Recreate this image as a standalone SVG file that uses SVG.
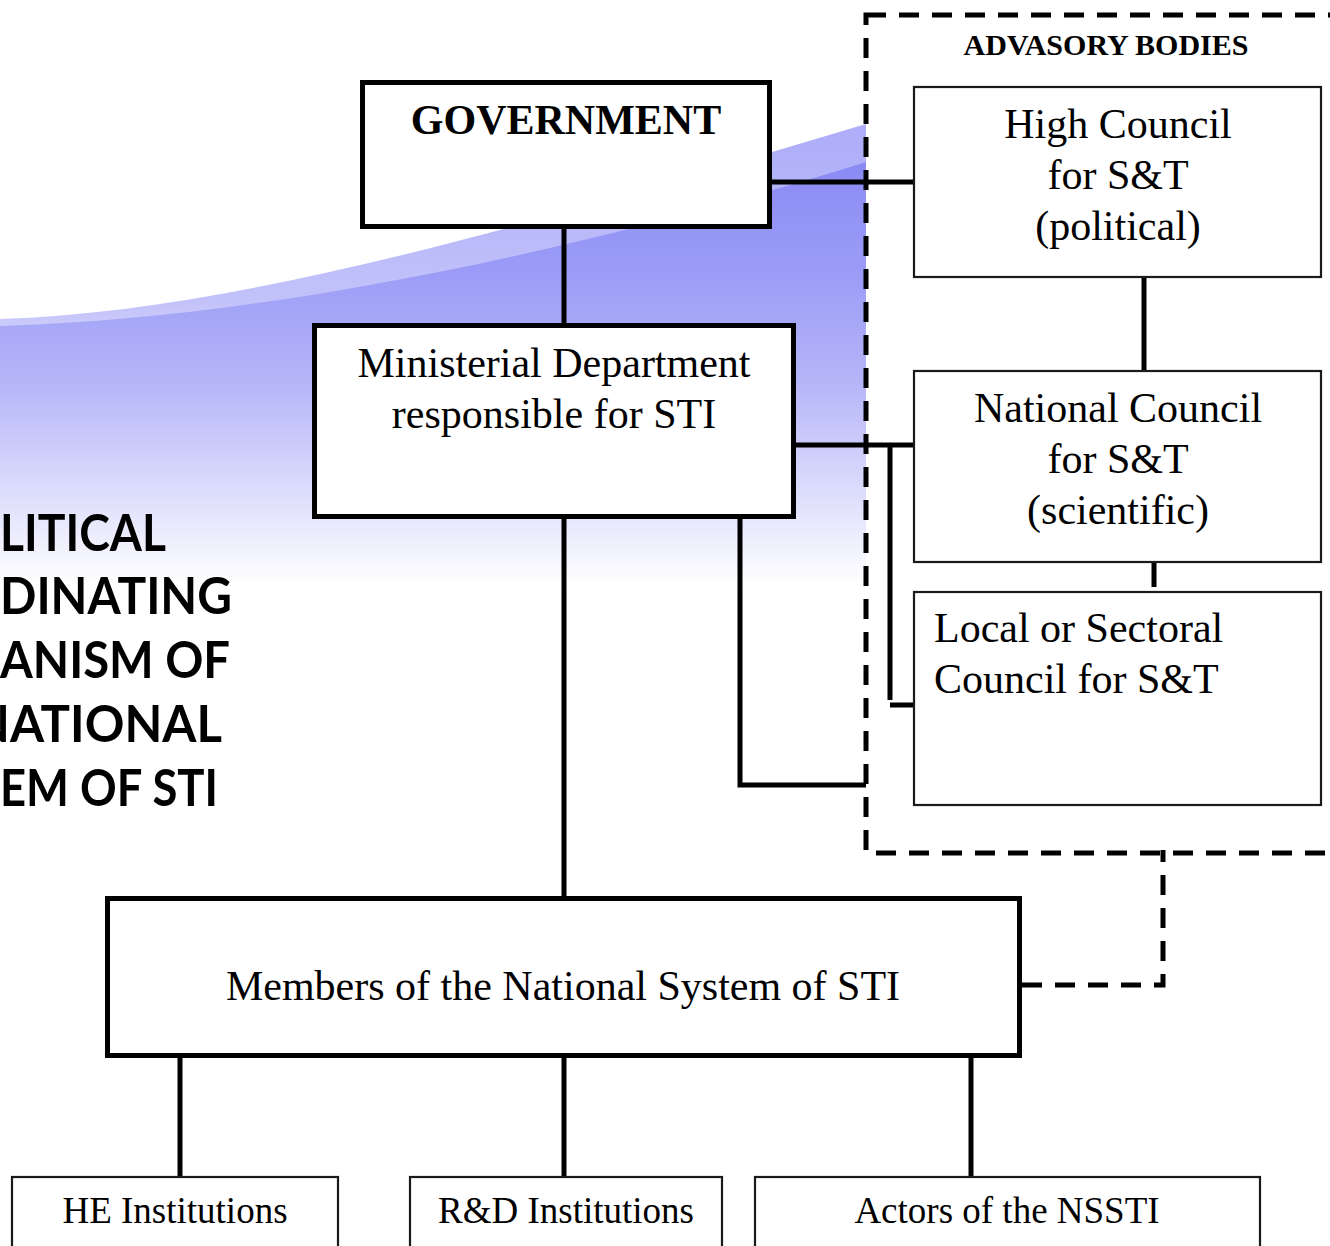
<svg xmlns="http://www.w3.org/2000/svg" width="1330" height="1246" viewBox="0 0 1330 1246">
<defs>
<linearGradient id="gDark" gradientUnits="userSpaceOnUse" x1="0" y1="140" x2="0" y2="585">
<stop offset="0" stop-color="#8787f4"/>
<stop offset="0.3" stop-color="#9c9cf7"/>
<stop offset="0.55" stop-color="#b6b6f9"/>
<stop offset="0.8" stop-color="#dedefc"/>
<stop offset="1" stop-color="#ffffff"/>
</linearGradient>
<linearGradient id="gLight" gradientUnits="userSpaceOnUse" x1="0" y1="120" x2="0" y2="420">
<stop offset="0" stop-color="#acacf9"/>
<stop offset="0.6" stop-color="#c2c2fa"/>
<stop offset="1" stop-color="#e8e8fd"/>
</linearGradient>
<style>
.serif{font-family:"Liberation Serif","Times New Roman",serif;fill:#000;}
.t42{font-size:42px;}
.thick{fill:#fff;stroke:#000;stroke-width:5;}
.thin{fill:#fff;stroke:#1a1a1a;stroke-width:2.2;}
.conn{fill:none;stroke:#000;stroke-width:5;}
.dash{fill:none;stroke:#000;stroke-width:5;stroke-dasharray:20 13;}
.side{font-family:Lato,"Liberation Sans",sans-serif;font-weight:bold;font-size:52px;fill:#000;}
</style>
</defs>
<rect width="1330" height="1246" fill="#fff"/>
<g id="swoosh">
<path d="M0 319 C250 311 560 215 866 124 V620 H0 Z" fill="url(#gLight)"/>
<path d="M0 326 C280 318 600 245 866 162 V620 H0 Z" fill="url(#gDark)"/>
</g>
<g id="title-text">
<text class="side" x="0" y="551" textLength="166" lengthAdjust="spacingAndGlyphs">LITICAL</text>
<text class="side" x="0" y="614" textLength="232" lengthAdjust="spacingAndGlyphs">DINATING</text>
<text class="side" x="0" y="678" textLength="230" lengthAdjust="spacingAndGlyphs">ANISM OF</text>
<text class="side" x="-28" y="742" textLength="250" lengthAdjust="spacingAndGlyphs">NATIONAL</text>
<text class="side" x="0" y="806" textLength="218" lengthAdjust="spacingAndGlyphs">EM OF STI</text>
</g>
<g id="advisory-bodies">
<rect class="dash" x="866" y="15" width="520" height="838"/>
<text class="serif" x="1106" y="55" font-size="30" font-weight="bold" text-anchor="middle">ADVASORY BODIES</text>
</g>
<g id="connectors">
<path class="conn" d="M772 182 H914"/>
<path class="conn" d="M564 227 V325"/>
<path class="conn" d="M796 445 H914"/>
<path class="conn" d="M890 445 V700"/>
<path class="conn" d="M890 705 H914"/>
<path class="conn" d="M740 518 V785 H866"/>
<path class="conn" d="M1144 278 V371"/>
<path class="conn" d="M1154 562 V587"/>
<path class="conn" d="M564 518 V898"/>
<path class="conn" d="M180 1057 V1177"/>
<path class="conn" d="M564 1057 V1177"/>
<path class="conn" d="M971 1057 V1177"/>
<path class="dash" d="M1022 985 H1163 V850"/>
</g>
<g id="government">
<rect class="thick" x="362.5" y="82.5" width="407" height="144"/>
<text class="serif" x="566" y="134" font-size="42" font-weight="bold" text-anchor="middle">GOVERNMENT</text>
</g>
<g id="ministerial">
<rect class="thick" x="314.5" y="325.5" width="479" height="191"/>
<text class="serif t42" x="554" y="377" text-anchor="middle">Ministerial Department</text>
<text class="serif t42" x="554" y="428" text-anchor="middle">responsible for STI</text>
</g>
<g id="high-council">
<rect class="thin" x="914" y="87" width="407" height="190"/>
<text class="serif t42" x="1118" y="138" text-anchor="middle">High Council</text>
<text class="serif t42" x="1118" y="189" text-anchor="middle">for S&amp;T</text>
<text class="serif t42" x="1118" y="240" text-anchor="middle">(political)</text>
</g>
<g id="national-council">
<rect class="thin" x="914" y="371" width="407" height="191"/>
<text class="serif t42" x="1118" y="422" text-anchor="middle">National Council</text>
<text class="serif t42" x="1118" y="473" text-anchor="middle">for S&amp;T</text>
<text class="serif t42" x="1118" y="524" text-anchor="middle">(scientific)</text>
</g>
<g id="local-council">
<rect class="thin" x="914" y="592" width="407" height="213"/>
<text class="serif t42" x="934" y="642">Local or Sectoral</text>
<text class="serif t42" x="934" y="693">Council for S&amp;T</text>
</g>
<g id="members">
<rect class="thick" x="107.5" y="898.5" width="912" height="157"/>
<text class="serif t42" x="563" y="1000" text-anchor="middle">Members of the National System of STI</text>
</g>
<g id="he-institutions">
<rect class="thin" x="12" y="1177" width="326" height="90"/>
<text class="serif" x="175" y="1223" font-size="37" text-anchor="middle">HE Institutions</text>
</g>
<g id="rd-institutions">
<rect class="thin" x="410" y="1177" width="312" height="90"/>
<text class="serif" x="566" y="1223" font-size="37" text-anchor="middle">R&amp;D Institutions</text>
</g>
<g id="actors">
<rect class="thin" x="755" y="1177" width="505" height="90"/>
<text class="serif" x="1007" y="1223" font-size="37" text-anchor="middle">Actors of the NSSTI</text>
</g>
</svg>
